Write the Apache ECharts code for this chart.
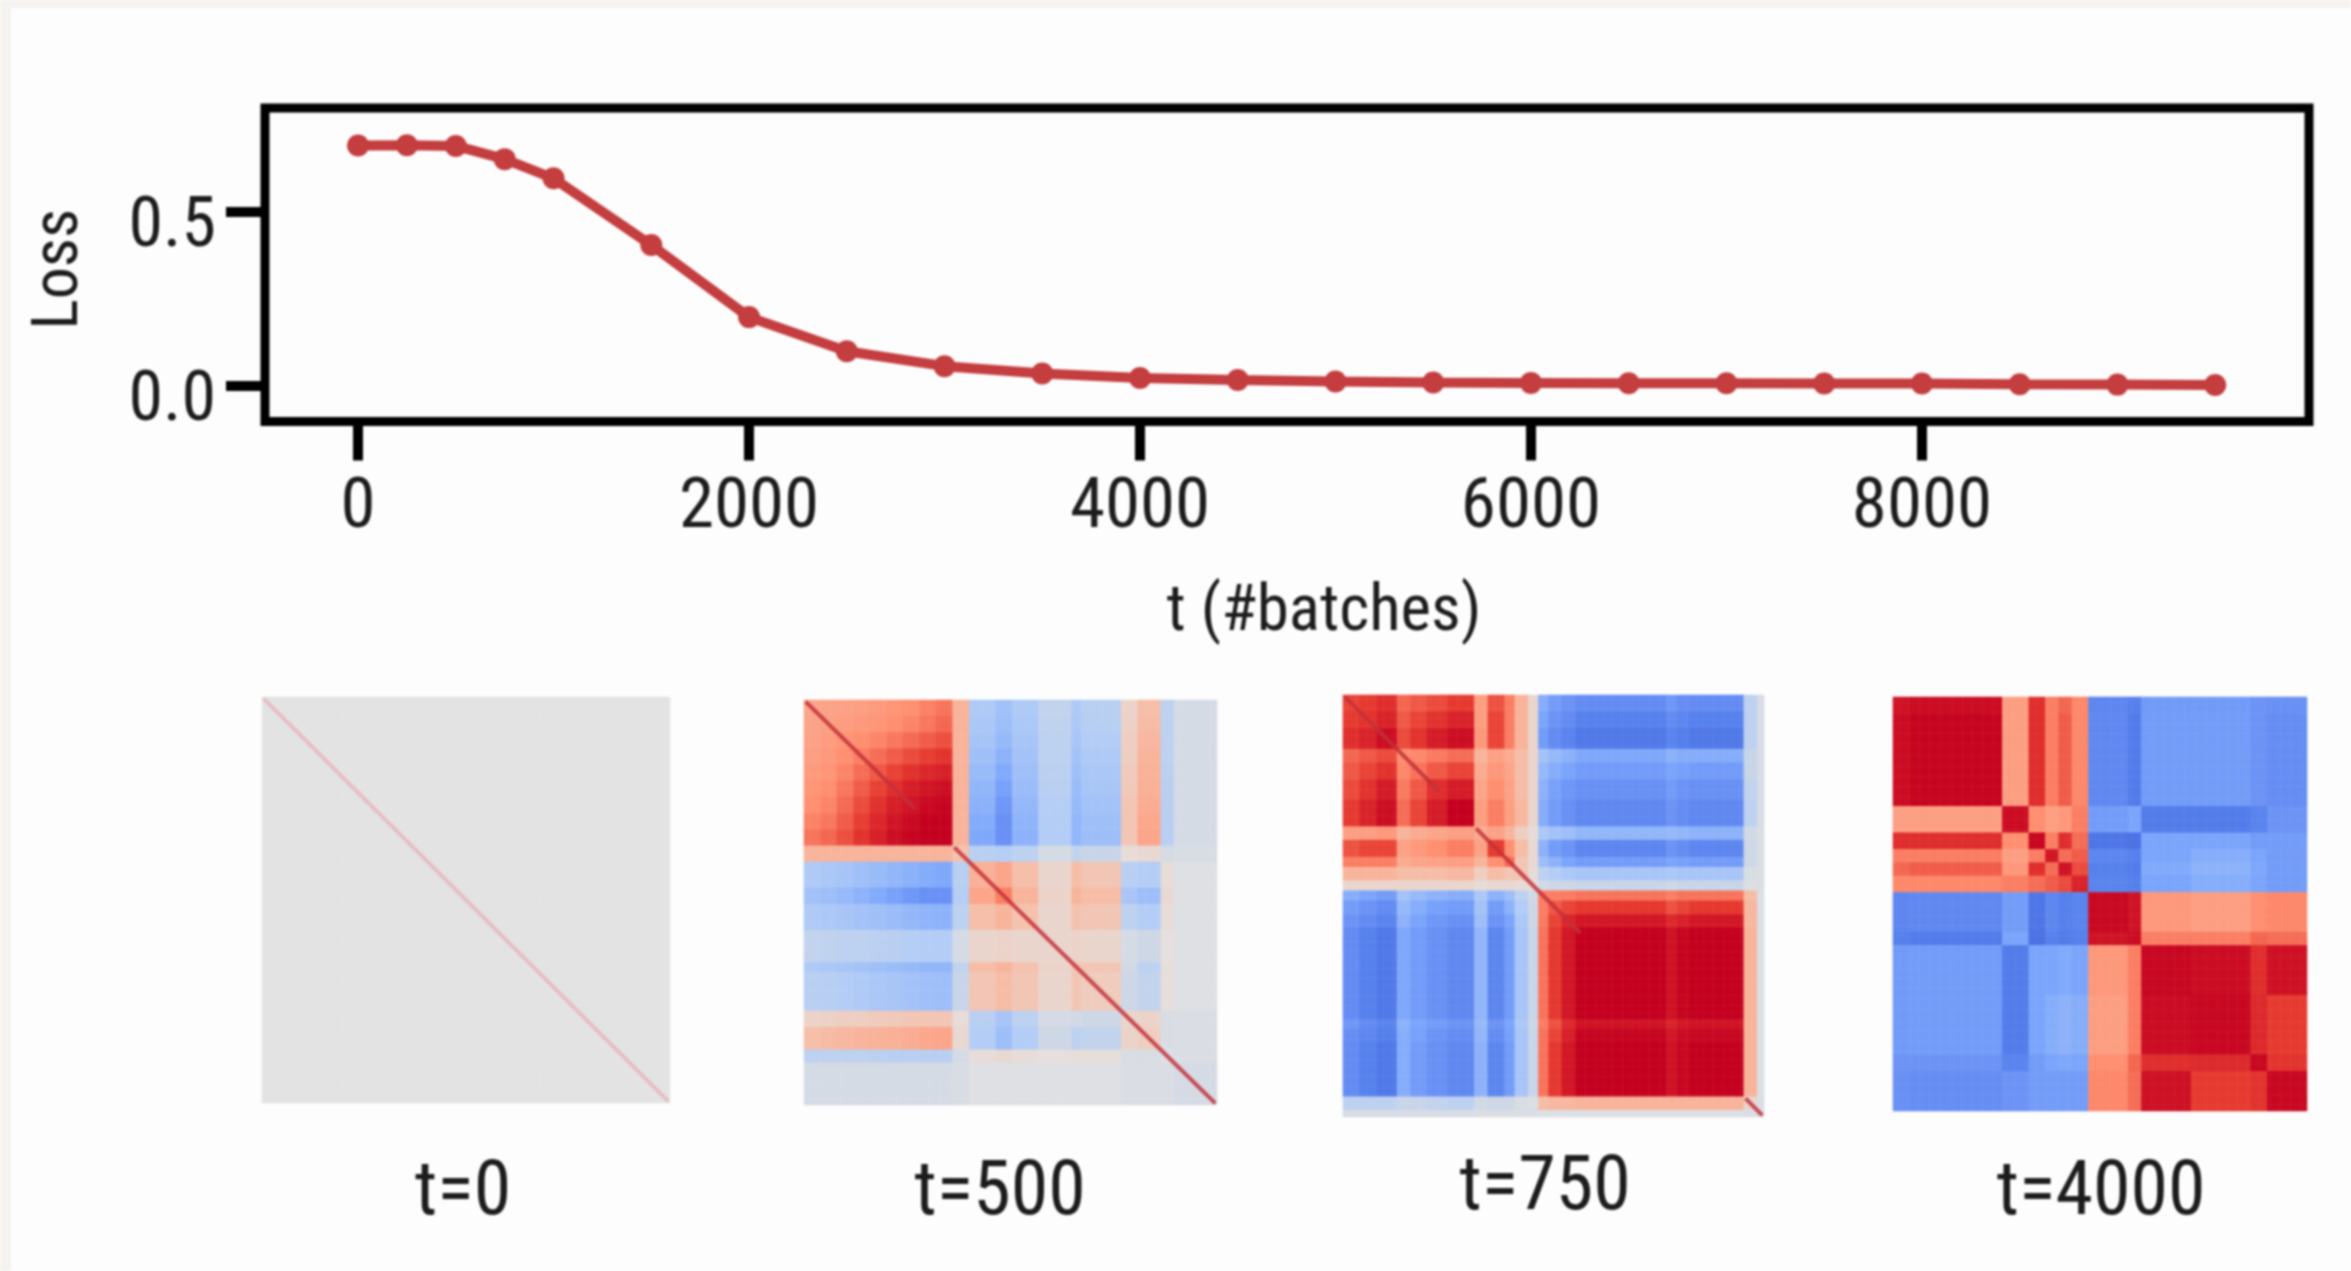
<!DOCTYPE html>
<html><head><meta charset="utf-8">
<style>html,body{margin:0;padding:0;background:#fdfdfd}#c{width:2351px;height:1271px;filter:blur(1.1px)}</style>
<script src="https://cdn.jsdelivr.net/npm/echarts@6/dist/echarts.min.js"></script>
</head><body><div id="c"></div>
<script>
const batchSteps=[0,250,500,750,1000,1500,2000,2500,3000,3500,4000,4500,5000,5500,6000,6500,7000,7500,8000,8500,9000,9500];
const lossValues=[0.691,0.692,0.690,0.652,0.597,0.405,0.198,0.100,0.057,0.036,0.023,0.017,0.013,0.010,0.009,0.008,0.008,0.007,0.007,0.005,0.004,0.003];
const xTicks=[0,2000,4000,6000,8000];
const yTicks=[0,0.5];
const panelLabels=['t=0','t=500','t=750','t=4000'];

// heatmaps: block edges in % of the side, upper triangle of block values
const t0Edges=[100];
const t0Blocks=[[0]];
const t500Edges=[4,8,12,16,20,24,28,32,36,40,46,50,57,65,67,77,81,86,89.5,100];
const t500Blocks=[
[.38,.39,.40,.42,.44,.47,.50,.54,.58,.3,-.27,-.33,-.27,-.18,-.27,-.22,.12,.24,-.2,-.08],
[.41,.43,.45,.47,.50,.53,.57,.62,.3,-.29,-.35,-.28,-.19,-.28,-.23,.13,.26,-.2,-.08],
[.47,.50,.53,.57,.61,.65,.69,.3,-.31,-.38,-.3,-.2,-.3,-.25,.15,.28,-.2,-.08],
[.55,.60,.65,.70,.74,.78,.3,-.34,-.42,-.32,-.2,-.32,-.27,.15,.3,-.2,-.08],
[.66,.73,.79,.83,.86,.3,-.37,-.47,-.34,-.21,-.34,-.29,.17,.31,-.21,-.08],
[.80,.87,.91,.94,.3,-.4,-.52,-.36,-.22,-.36,-.3,.18,.32,-.22,-.08],
[.92,.96,.98,.3,-.43,-.58,-.39,-.24,-.38,-.32,.2,.34,-.22,-.08],
[1,1,.3,-.46,-.62,-.41,-.25,-.4,-.34,.2,.37,-.22,-.08],
[1,.3,-.48,-.62,-.42,-.25,-.4,-.35,.2,.38,-.22,-.08],
[.22,-.22,-.24,-.2,-.08,-.18,-.15,.05,.08,-.08,-.06],
[.32,.38,.24,.1,.25,.2,-.22,-.25,.05,-.03],
[.55,.3,.12,.3,.25,-.3,-.35,.08,-.03],
[.22,.1,.22,.2,-.2,-.25,.05,-.03],
[.1,.12,.1,-.08,-.12,.03,-.03],
[.2,.2,-.1,-.2,.04,-.03],
[.16,-.12,-.18,.04,-.03],
[.1,.12,-.06,-.05],
[.15,-.06,-.05],
[-.04,-.05],
[-.08]];
const t750Edges=[4,8,12.8,16,20,25,31.2,34,38,41,43.7,46.5,49,52,55,77,79,82,95.5,98,100];
const t750Blocks=[
[.72,.75,.8,.62,.66,.7,.75,.42,.68,.55,.3,.1,-.45,-.55,-.6,-.66,-.58,-.64,-.66,-.2,-.07],
[.78,.85,.66,.72,.78,.85,.42,.72,.55,.3,.1,-.5,-.6,-.66,-.74,-.66,-.7,-.74,-.2,-.07],
[.95,.7,.78,.88,.94,.45,.72,.55,.3,.1,-.55,-.66,-.72,-.8,-.72,-.76,-.8,-.2,-.07],
[.5,.52,.56,.6,.3,.4,.35,.25,.1,-.32,-.38,-.42,-.48,-.42,-.45,-.45,-.15,-.07],
[.58,.66,.72,.35,.45,.38,.25,.1,-.38,-.45,-.5,-.55,-.5,-.52,-.55,-.15,-.07],
[.8,.88,.38,.5,.4,.25,.1,-.42,-.52,-.58,-.62,-.55,-.6,-.62,-.18,-.07],
[1,.42,.55,.42,.28,.1,-.45,-.55,-.62,-.68,-.6,-.65,-.68,-.2,-.07],
[.35,.4,.3,.15,.05,-.28,-.32,-.35,-.4,-.38,-.4,-.42,-.1,-.05],
[.75,.5,.25,.08,-.42,-.55,-.6,-.7,-.6,-.65,-.7,-.12,-.05],
[.6,.2,.08,-.35,-.42,-.5,-.55,-.5,-.52,-.55,-.12,-.05],
[.2,.06,-.2,-.25,-.28,-.3,-.28,-.3,-.3,-.06,-.05],
[.03,-.1,-.12,-.12,-.15,-.12,-.15,-.15,-.04,-.05],
[.55,.55,.56,.58,.55,.58,.58,.25,-.04],
[.66,.72,.76,.68,.72,.76,.28,-.04],
[.84,.9,.82,.86,.9,.28,-.04],
[1,.92,.98,1,.3,-.04],
[.85,.9,.92,.3,-.04],
[.95,.97,.3,-.04],
[1,.3,-.04],
[.1,-.05],
[-.07]];
const t4000Edges=[4,26,33,37,40,43.5,47,57,60,72,86,90,100];
const t4000Blocks=[
[.92,.95,.42,.8,.55,.62,.52,-.7,-.75,-.56,-.56,-.6,-.62],
[.98,.42,.8,.55,.65,.52,-.68,-.78,-.55,-.55,-.6,-.64],
[.95,.5,.42,.45,.55,-.55,-.5,-.78,-.78,-.72,-.6],
[.97,.55,.8,.6,-.82,-.85,-.5,-.5,-.55,-.55],
[.9,.6,.65,-.7,-.75,-.5,-.45,-.5,-.55],
[.92,.7,-.75,-.78,-.47,-.42,-.48,-.55],
[.85,-.72,-.75,-.5,-.45,-.5,-.55],
[.96,.92,.45,.42,.5,.52],
[.95,.55,.55,.62,.6],
[.97,.95,.8,.93],
[.97,.82,.75],
[.97,.78],
[.97]];
const diagonalRuns=[[[0,100]],[[0,26],[36,100]],[[0,22],[31,56],[95.5,100]],[]];
const diagonalColors=['#e8b6bd','#c4303a','#c4303a','#c4303a'];
const coolwarmStops=['#3f5fd8','#4a6fe2','#5680ec','#688ff4','#7aa5fb','#97baf9','#b3cdf6','#cdd7e6','#e3e3e3','#ecd2c8','#f6bda6','#fba68b','#ff8f70','#f3654f','#e63a30','#d51d28','#c4001f'];

const CELLS=125;
const cats=Array.from({length:CELLS},(_,i)=>String(i));
function expand(edges,blocks){
  const seg=i=>{const p=(i+.5)/CELLS*100;let s=0;while(s<edges.length-1&&p>edges[s])s++;return s;};
  const val=(a,b)=>a<=b?blocks[a][b-a]:blocks[b][a-b];
  const segs=cats.map((_,i)=>seg(i)),out=[];
  for(let y=0;y<CELLS;y++)for(let x=0;x<CELLS;x++)out.push([x,y,val(segs[y],segs[x])]);
  return out;
}
function diagData(runs){
  const out=[];
  runs.forEach(r=>{
    const a=cats[Math.min(CELLS-1,Math.round(r[0]/100*CELLS))],b=cats[Math.min(CELLS-1,Math.round(r[1]/100*CELLS))];
    out.push([a,a],[b,b],['-','-']);
  });
  return out;
}
const boxes=[[262,697,408,406],[804,700,413,405],[1343,695,421,422],[1893,697,414,414]];
const panelData=[expand(t0Edges,t0Blocks),expand(t500Edges,t500Blocks),expand(t750Edges,t750Blocks),expand(t4000Edges,t4000Blocks)];
const labelPos=[[463,1195],[1000,1195],[1545,1190],[2101,1195]];
const FONT='"Liberation Sans Narrow","Roboto Condensed","Liberation Sans",sans-serif';
const INK='#1c1c1c';

const grid=[{left:265,top:108,width:2044,height:313.5,show:true,borderColor:'#000',borderWidth:9,backgroundColor:'transparent',outerBoundsMode:'none'}];
const xAxis=[{type:'value',gridIndex:0,min:-476,max:9980,splitLine:{show:false},axisLine:{show:false,onZero:false},
  axisTick:{show:true,customValues:xTicks,length:39,lineStyle:{color:'#000',width:10}},
  axisLabel:{customValues:xTicks,margin:52,fontFamily:FONT,fontSize:71,color:INK,formatter:v=>String(v)}}];
const yAxis=[{type:'value',gridIndex:0,min:-0.102,max:0.799,splitLine:{show:false},axisLine:{show:false,onZero:false},
  axisTick:{show:true,customValues:yTicks,length:39,lineStyle:{color:'#000',width:10}},
  axisLabel:{customValues:yTicks,margin:49,fontFamily:FONT,fontSize:70,color:INK,verticalAlign:'top',lineHeight:33,formatter:v=>v.toFixed(1)},
  name:'Loss',nameLocation:'middle',nameGap:172,nameRotate:90,nameTextStyle:{fontFamily:FONT,fontSize:64,color:INK,padding:[0,9,0,0]}}];
const series=[{type:'line',xAxisIndex:0,yAxisIndex:0,data:batchSteps.map((b,i)=>[b,lossValues[i]]),symbol:'circle',symbolSize:22,
  lineStyle:{color:'#c43d3f',width:10},itemStyle:{color:'#c43d3f'},animation:false,z:5}];
const heatIdx=[];
boxes.forEach((b,i)=>{
  const g=i+1;
  grid.push({left:b[0],top:b[1],width:b[2],height:b[3],outerBoundsMode:'none'});
  xAxis.push({type:'category',gridIndex:g,data:cats,show:false});
  yAxis.push({type:'category',gridIndex:g,data:cats,inverse:true,show:false});
  heatIdx.push(series.length);
  series.push({type:'heatmap',xAxisIndex:g,yAxisIndex:g,data:panelData[i],progressive:0,animation:false,silent:true});
  if(diagonalRuns[i].length)series.push({type:'line',xAxisIndex:g,yAxisIndex:g,data:diagData(diagonalRuns[i]),connectNulls:false,
    showSymbol:false,lineStyle:{color:diagonalColors[i],width:4,opacity:.85},animation:false,silent:true,z:4});
});
const graphic=[
  {type:'rect',shape:{x:0,y:0,width:2351,height:8},style:{fill:'#f6f3ee'},z:-10},
  {type:'rect',shape:{x:0,y:0,width:11,height:1271},style:{fill:'#f6f3ee'},z:-10},
  {type:'text',x:1324,y:614,style:{text:'t (#batches)',font:'65px '+FONT,fill:INK,textAlign:'center',textVerticalAlign:'middle'}}
];
panelLabels.forEach((t,i)=>graphic.push({type:'text',x:labelPos[i][0],y:labelPos[i][1],style:{text:t,font:'76px '+FONT,fill:INK,textAlign:'center',textVerticalAlign:'middle'}}));
const chart=echarts.init(document.getElementById('c'),null,{renderer:'canvas'});
chart.setOption({animation:false,backgroundColor:'#fdfdfd',grid,xAxis,yAxis,series,graphic,
  visualMap:{show:false,type:'continuous',min:-1,max:1,seriesIndex:heatIdx,inRange:{color:coolwarmStops}}});
</script></body></html>
